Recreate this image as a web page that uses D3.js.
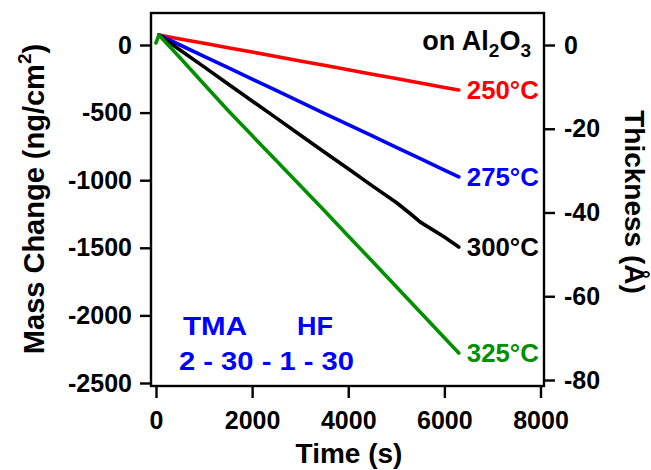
<!DOCTYPE html>
<html><head><meta charset="utf-8">
<script src="https://cdn.jsdelivr.net/npm/d3@7"></script>
<style>
body{margin:0;background:#fff}
svg{display:block}
text{font-family:"Liberation Sans",Arial,sans-serif;font-weight:bold}
</style>
</head><body>
<svg id="c" width="651" height="470"></svg>
<script>
// ---- data ----
const times = [60,500,1000,1500,2000,2500,3000,3500,4000,4500,5000,5300,5500,6000,6300];
const mass250 = [74,45,13,-20,-52,-85,-118,-150,-183,-216,-248,-268,-281,-314,-333];
const mass275 = [74,0,-84,-168,-252,-336,-420,-505,-589,-673,-757,-808,-841,-925,-976];
const mass300 = [74,-37,-162,-288,-414,-539,-665,-791,-916,-1042,-1165,-1250,-1310,-1420,-1494];
const times325 = [0,60,500,1000,1500,2000,2500,3000,3500,4000,4500,5000,5500,6000,6300];
const mass325 = [15,74,-95,-290,-485,-670,-855,-1040,-1225,-1412,-1600,-1788,-1977,-2165,-2278];
const seriesLabels = ["250°C","275°C","300°C","325°C"];
const seriesColors = ["#ff0000","#0000ff","#000000","#009000"];
const xTicks = [0,2000,4000,6000,8000];
const massTicks = [0,-500,-1000,-1500,-2000,-2500];
const thickTicks = [0,-20,-40,-60,-80];

const series = [
  {t: times, v: mass250},
  {t: times, v: mass275},
  {t: times, v: mass300},
  {t: times325, v: mass325}
];

const svg = d3.select("#c");
const x = d3.scaleLinear().domain([0,8000]).range([156,540.5]);
const yL = d3.scaleLinear().domain([-2500,0]).range([383,45]);
const yR = d3.scaleLinear().domain([-80,0]).range([380,45]);

const frame = {l:151, t:13, r:544, b:386};

// lines
const line = d3.line().x(d=>x(d[0])).y(d=>yL(d[1]));
series.forEach((s,i)=>{
  const pts = s.t.map((t,j)=>[t,s.v[j]]);
  svg.append("path").attr("d", line(pts)).attr("fill","none")
    .attr("stroke", seriesColors[i]).attr("stroke-width",3.6)
    .attr("stroke-linejoin","round").attr("stroke-linecap","round");
  const last = pts[pts.length-1];
  svg.append("text").attr("x", x(last[0])+8).attr("y", yL(last[1])+9)
    .attr("font-size",25).attr("textLength",72).attr("lengthAdjust","spacingAndGlyphs")
    .attr("fill",seriesColors[i]).text(seriesLabels[i]);
});

// frame
svg.append("rect").attr("x",frame.l).attr("y",frame.t)
  .attr("width",frame.r-frame.l).attr("height",frame.b-frame.t)
  .attr("fill","none").attr("stroke","#000").attr("stroke-width",2.4);

function styleAxis(g){
  g.select(".domain").remove();
  g.selectAll(".tick line").attr("stroke","#000").attr("stroke-width",2.4);
  g.selectAll(".tick text").attr("font-size",25).attr("fill","#000")
    .style("font-family","'Liberation Sans',Arial,sans-serif").style("font-weight","bold")
    .text(function(){return this.textContent.replace("\u2212","-");});
}
svg.append("g").attr("transform",`translate(${frame.l},0)`)
  .call(d3.axisLeft(yL).tickValues(massTicks).tickSize(11).tickPadding(8).tickFormat(d3.format("d")))
  .call(styleAxis);
svg.append("g").attr("transform",`translate(${frame.r},0)`)
  .call(d3.axisRight(yR).tickValues(thickTicks).tickSize(11).tickPadding(9).tickFormat(d3.format("d")))
  .call(styleAxis);
svg.append("g").attr("transform",`translate(0,${frame.b+1})`)
  .call(d3.axisBottom(x).tickValues(xTicks).tickSize(11).tickPadding(13).tickFormat(d3.format("d")))
  .call(styleAxis);

// axis titles
const lt = svg.append("text").attr("transform","translate(44,199) rotate(-90)")
  .attr("text-anchor","middle").attr("font-size",29);
lt.append("tspan").text("Mass Change (ng/cm");
lt.append("tspan").attr("font-size",19).attr("dy",-13).text("2");
lt.append("tspan").attr("dy",13).text(")");

svg.append("text").attr("transform","translate(625,202) rotate(90)")
  .attr("text-anchor","middle").attr("font-size",28).text("Thickness (Å)");

svg.append("text").attr("x",349).attr("y",463).attr("text-anchor","middle")
  .attr("font-size",28).text("Time (s)");

// annotations
const al = svg.append("text").attr("x",531).attr("y",50).attr("text-anchor","end").attr("font-size",27);
al.append("tspan").text("on Al");
al.append("tspan").attr("font-size",19).attr("dy",7).text("2");
al.append("tspan").attr("dy",-7).text("O");
al.append("tspan").attr("font-size",19).attr("dy",7).text("3");

svg.append("text").attr("x",183).attr("y",335).attr("font-size",26).attr("textLength",64)
  .attr("lengthAdjust","spacingAndGlyphs").attr("fill","#0000ff").text("TMA");
svg.append("text").attr("x",297).attr("y",335).attr("font-size",26).attr("textLength",36)
  .attr("lengthAdjust","spacingAndGlyphs").attr("fill","#0000ff").text("HF");
svg.append("text").attr("x",179).attr("y",370).attr("font-size",26).attr("textLength",175)
  .attr("lengthAdjust","spacingAndGlyphs").attr("fill","#0000ff").text("2 - 30 - 1 - 30");
</script>
</body></html>
